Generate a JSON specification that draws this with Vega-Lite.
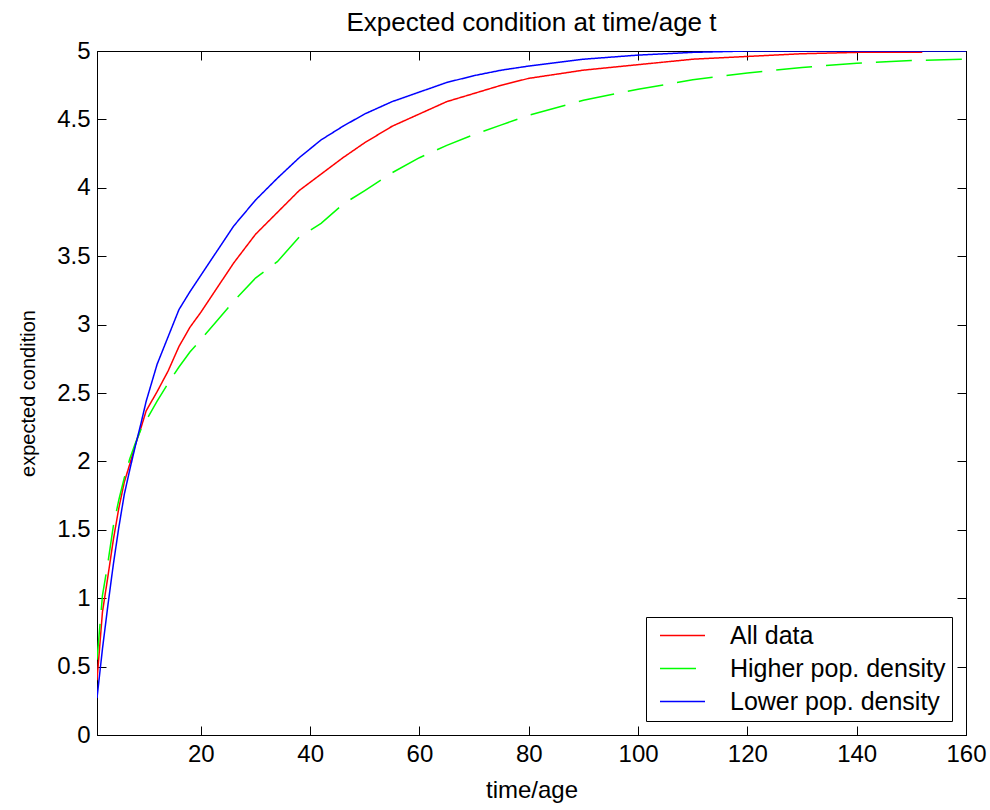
{
  "$schema": "https://vega.github.io/schema/vega-lite/v6.json",
  "width": 869,
  "height": 684,
  "autosize": "none",
  "padding": {"left": 97, "top": 51, "right": 24, "bottom": 75},
  "background": "white",
  "config": {
    "font": "Liberation Sans",
    "view": {"stroke": "black", "strokeWidth": 1},
    "axis": {
      "domainColor": "black", "tickColor": "black", "labelColor": "black", "titleColor": "black",
      "grid": false, "tickSize": -9, "labelFontSize": 24, "titleFontSize": 24, "titleFontWeight": "normal",
      "labelFont": "Liberation Sans", "titleFont": "Liberation Sans", "domainWidth": 1, "tickWidth": 1,
      "labelFlush": false, "labelOverlap": false
    },
    "legend": {
      "labelFontSize": 25, "labelFont": "Liberation Sans", "labelColor": "black",
      "symbolType": "M-3,0H3", "symbolSize": 225, "symbolStrokeWidth": 1.5,
      "strokeColor": "black", "fillColor": "white", "padding": 6, "rowPadding": 7,
      "symbolOffset": 18, "labelOffset": 35, "labelLimit": 400
    }
  },
  "title": {"text": "Expected condition at time/age t", "fontSize": 26, "fontWeight": "normal", "font": "Liberation Sans", "color": "black", "offset": 3, "anchor": "middle"},
  "data": {"values": [
    {"t": 1, "v": 0.40, "s": "All data"}, {"t": 2, "v": 0.90, "s": "All data"}, {"t": 3, "v": 1.16, "s": "All data"}, {"t": 4, "v": 1.43, "s": "All data"}, {"t": 5, "v": 1.66, "s": "All data"}, {"t": 6, "v": 1.85, "s": "All data"}, {"t": 7, "v": 1.98, "s": "All data"}, {"t": 8, "v": 2.12, "s": "All data"}, {"t": 9, "v": 2.24, "s": "All data"}, {"t": 10, "v": 2.37, "s": "All data"}, {"t": 12, "v": 2.51, "s": "All data"}, {"t": 14, "v": 2.66, "s": "All data"}, {"t": 16, "v": 2.84, "s": "All data"}, {"t": 18, "v": 2.98, "s": "All data"}, {"t": 20, "v": 3.09, "s": "All data"}, {"t": 23, "v": 3.27, "s": "All data"}, {"t": 26, "v": 3.45, "s": "All data"}, {"t": 30, "v": 3.66, "s": "All data"}, {"t": 34, "v": 3.82, "s": "All data"}, {"t": 38, "v": 3.98, "s": "All data"}, {"t": 42, "v": 4.10, "s": "All data"}, {"t": 46, "v": 4.22, "s": "All data"}, {"t": 50, "v": 4.33, "s": "All data"}, {"t": 55, "v": 4.45, "s": "All data"}, {"t": 60, "v": 4.54, "s": "All data"}, {"t": 65, "v": 4.63, "s": "All data"}, {"t": 70, "v": 4.69, "s": "All data"}, {"t": 75, "v": 4.75, "s": "All data"}, {"t": 80, "v": 4.80, "s": "All data"}, {"t": 90, "v": 4.86, "s": "All data"}, {"t": 100, "v": 4.90, "s": "All data"}, {"t": 110, "v": 4.94, "s": "All data"}, {"t": 120, "v": 4.96, "s": "All data"}, {"t": 130, "v": 4.98, "s": "All data"}, {"t": 140, "v": 4.99, "s": "All data"}, {"t": 152, "v": 4.99, "s": "All data"},
    {"t": 1, "v": 0.55, "s": "Higher pop. density"}, {"t": 2, "v": 1.02, "s": "Higher pop. density"}, {"t": 3, "v": 1.26, "s": "Higher pop. density"}, {"t": 4, "v": 1.53, "s": "Higher pop. density"}, {"t": 5, "v": 1.72, "s": "Higher pop. density"}, {"t": 6, "v": 1.88, "s": "Higher pop. density"}, {"t": 7, "v": 2.02, "s": "Higher pop. density"}, {"t": 8, "v": 2.13, "s": "Higher pop. density"}, {"t": 9, "v": 2.23, "s": "Higher pop. density"}, {"t": 10, "v": 2.30, "s": "Higher pop. density"}, {"t": 12, "v": 2.44, "s": "Higher pop. density"}, {"t": 14, "v": 2.57, "s": "Higher pop. density"}, {"t": 16, "v": 2.69, "s": "Higher pop. density"}, {"t": 18, "v": 2.80, "s": "Higher pop. density"}, {"t": 20, "v": 2.89, "s": "Higher pop. density"}, {"t": 23, "v": 3.03, "s": "Higher pop. density"}, {"t": 26, "v": 3.17, "s": "Higher pop. density"}, {"t": 30, "v": 3.34, "s": "Higher pop. density"}, {"t": 34, "v": 3.46, "s": "Higher pop. density"}, {"t": 38, "v": 3.64, "s": "Higher pop. density"}, {"t": 42, "v": 3.74, "s": "Higher pop. density"}, {"t": 46, "v": 3.88, "s": "Higher pop. density"}, {"t": 50, "v": 3.98, "s": "Higher pop. density"}, {"t": 55, "v": 4.11, "s": "Higher pop. density"}, {"t": 60, "v": 4.22, "s": "Higher pop. density"}, {"t": 65, "v": 4.31, "s": "Higher pop. density"}, {"t": 70, "v": 4.39, "s": "Higher pop. density"}, {"t": 75, "v": 4.46, "s": "Higher pop. density"}, {"t": 80, "v": 4.53, "s": "Higher pop. density"}, {"t": 90, "v": 4.64, "s": "Higher pop. density"}, {"t": 100, "v": 4.72, "s": "Higher pop. density"}, {"t": 110, "v": 4.79, "s": "Higher pop. density"}, {"t": 120, "v": 4.84, "s": "Higher pop. density"}, {"t": 130, "v": 4.88, "s": "Higher pop. density"}, {"t": 140, "v": 4.91, "s": "Higher pop. density"}, {"t": 150, "v": 4.93, "s": "Higher pop. density"}, {"t": 160, "v": 4.94, "s": "Higher pop. density"},
    {"t": 1, "v": 0.27, "s": "Lower pop. density"}, {"t": 2, "v": 0.63, "s": "Lower pop. density"}, {"t": 3, "v": 0.95, "s": "Lower pop. density"}, {"t": 4, "v": 1.25, "s": "Lower pop. density"}, {"t": 5, "v": 1.52, "s": "Lower pop. density"}, {"t": 6, "v": 1.76, "s": "Lower pop. density"}, {"t": 7, "v": 1.94, "s": "Lower pop. density"}, {"t": 8, "v": 2.11, "s": "Lower pop. density"}, {"t": 9, "v": 2.27, "s": "Lower pop. density"}, {"t": 10, "v": 2.44, "s": "Lower pop. density"}, {"t": 12, "v": 2.71, "s": "Lower pop. density"}, {"t": 14, "v": 2.91, "s": "Lower pop. density"}, {"t": 16, "v": 3.11, "s": "Lower pop. density"}, {"t": 18, "v": 3.24, "s": "Lower pop. density"}, {"t": 20, "v": 3.36, "s": "Lower pop. density"}, {"t": 23, "v": 3.54, "s": "Lower pop. density"}, {"t": 26, "v": 3.72, "s": "Lower pop. density"}, {"t": 30, "v": 3.91, "s": "Lower pop. density"}, {"t": 34, "v": 4.07, "s": "Lower pop. density"}, {"t": 38, "v": 4.22, "s": "Lower pop. density"}, {"t": 42, "v": 4.35, "s": "Lower pop. density"}, {"t": 46, "v": 4.45, "s": "Lower pop. density"}, {"t": 50, "v": 4.54, "s": "Lower pop. density"}, {"t": 55, "v": 4.63, "s": "Lower pop. density"}, {"t": 60, "v": 4.70, "s": "Lower pop. density"}, {"t": 65, "v": 4.77, "s": "Lower pop. density"}, {"t": 70, "v": 4.82, "s": "Lower pop. density"}, {"t": 75, "v": 4.86, "s": "Lower pop. density"}, {"t": 80, "v": 4.89, "s": "Lower pop. density"}, {"t": 90, "v": 4.94, "s": "Lower pop. density"}, {"t": 100, "v": 4.97, "s": "Lower pop. density"}, {"t": 110, "v": 4.99, "s": "Lower pop. density"}, {"t": 120, "v": 5.0, "s": "Lower pop. density"}, {"t": 130, "v": 5.0, "s": "Lower pop. density"}, {"t": 140, "v": 5.0, "s": "Lower pop. density"}, {"t": 150, "v": 5.0, "s": "Lower pop. density"}, {"t": 160, "v": 5.0, "s": "Lower pop. density"}
  ]},
  "layer": [
    {
      "mark": {"type": "line", "strokeWidth": 1.5, "clip": true},
      "encoding": {
        "x": {"field": "t", "type": "quantitative", "scale": {"domain": [1, 160], "nice": false, "zero": false},
              "axis": {"orient": "bottom", "values": [20, 40, 60, 80, 100, 120, 140, 160], "title": "time/age", "labelPadding": 16, "titlePadding": 12}},
        "y": {"field": "v", "type": "quantitative", "scale": {"domain": [0, 5], "nice": false, "zero": false},
              "axis": {"orient": "left", "values": [0, 0.5, 1, 1.5, 2, 2.5, 3, 3.5, 4, 4.5, 5], "format": "~g", "title": "expected condition", "titleFontSize": 20, "labelPadding": 16, "titlePadding": 18}},
        "color": {"field": "s", "type": "nominal", "scale": {"domain": ["All data", "Higher pop. density", "Lower pop. density"], "range": ["#ff0000", "#00ff00", "#0000ff"]},
                  "legend": {"title": null, "orient": "bottom-right", "offset": 14}},
        "strokeDash": {"field": "s", "type": "nominal", "scale": {"domain": ["All data", "Higher pop. density", "Lower pop. density"], "range": [[1, 0], [36, 14], [1, 0]]},
                  "legend": {"title": null, "orient": "bottom-right", "offset": 14}}
      }
    },
    {
      "mark": {"type": "point", "opacity": 0},
      "encoding": {
        "x": {"field": "t", "type": "quantitative", "scale": {"domain": [1, 160], "nice": false, "zero": false},
              "axis": {"orient": "top", "values": [20, 40, 60, 80, 100, 120, 140, 160], "labels": false, "title": null}},
        "y": {"field": "v", "type": "quantitative", "scale": {"domain": [0, 5], "nice": false, "zero": false},
              "axis": {"orient": "right", "values": [0, 0.5, 1, 1.5, 2, 2.5, 3, 3.5, 4, 4.5, 5], "labels": false, "title": null}}
      }
    }
  ]
}
